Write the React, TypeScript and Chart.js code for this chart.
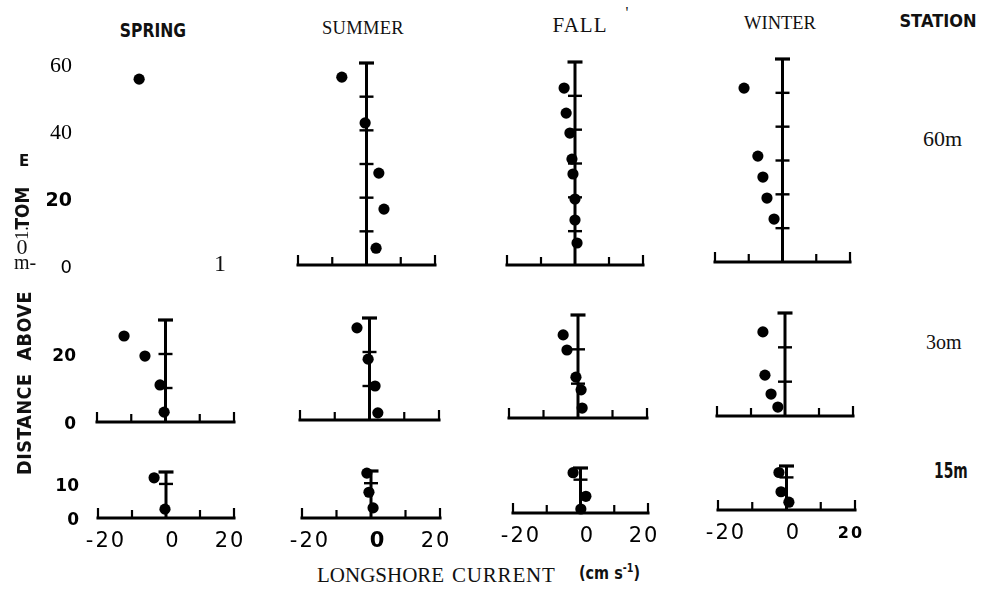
import React, { useEffect, useRef } from 'react';
import { Chart, registerables } from 'chart.js';

Chart.register(...registerables);

// ---------- categories ----------
const seasons = ['SPRING', 'SUMMER', 'FALL', 'WINTER'];
const stations = ['60m', '3om', '15m'];
const stationHeader = 'STATION';
const xAxisTitleA = 'LONGSHORE';
const xAxisTitleB = 'CURRENT';
const yAxisTitle = 'DISTANCE  ABOVE';

// ---------- data: longshore current (cm/s) vs distance above bottom (m) ----------
const spring60X = [-7.9];
const spring60Y = [55.2];
const summer60X = [-7.2, -0.4, 3.6, 5.1, 2.8];
const summer60Y = [55.8, 42.2, 27.3, 16.6, 5.0];
const fall60X = [-3.2, -2.6, -1.5, -0.9, -0.6, 0, 0, 0.6];
const fall60Y = [52.3, 44.9, 39.0, 31.3, 26.9, 19.5, 13.3, 6.5];
const winter60X = [-11.4, -7.3, -5.8, -4.6, -2.5];
const winter60Y = [51.4, 31.3, 25.1, 18.9, 12.7];

const spring30X = [-12.1, -6.0, -1.6, -0.4];
const spring30Y = [25.3, 19.4, 10.9, 2.9];
const summer30X = [-3.6, -0.4, 1.6, 2.4];
const summer30Y = [27.1, 17.9, 10.0, 2.1];
const fall30X = [-4.3, -3.2, -0.6, 0.9, 1.2];
const fall30Y = [24.2, 19.8, 11.9, 8.2, 2.9];
const winter30X = [-6.5, -5.9, -4.1, -2.1];
const winter30Y = [24.5, 11.9, 6.4, 2.6];

const spring15X = [-3.5, -0.3];
const spring15Y = [11.8, 2.6];
const summer15X = [-1.2, -0.6, 0.6];
const summer15Y = [12.9, 7.4, 2.9];
const fall15X = [-2.2, 1.6, 0.1];
const fall15Y = [12.1, 5.0, 1.2];
const winter15X = [-2.2, -1.6, 0.7];
const winter15Y = [11.5, 5.6, 2.4];

// ---------- axes / ticks ----------
const xMin = -20;
const xMax = 20;
const xTickMarks = [-20, -10, 10, 20];
const xLabelValues = [-20, 0, 20];
const xLabelTexts = ['-20', '0', '20'];
const axisTop = [60, 30, 13.5];
const rodTicks60 = [10, 20, 30, 40, 50];
const rodTicks30 = [10, 20];
const rodTicks15 = [10];
const yLabelValues60 = [60, 40, 20, 0];
const yLabelTexts60 = ['60', '40', '20', '0'];
const yLabelValues30 = [20, 0];
const yLabelTexts30 = ['20', '0'];
const yLabelValues15 = [10, 0];
const yLabelTexts15 = ['10', '0'];

const seriesX = [
  [spring60X, summer60X, fall60X, winter60X],
  [spring30X, summer30X, fall30X, winter30X],
  [spring15X, summer15X, fall15X, winter15X],
];
const seriesY = [
  [spring60Y, summer60Y, fall60Y, winter60Y],
  [spring30Y, summer30Y, fall30Y, winter30Y],
  [spring15Y, summer15Y, fall15Y, winter15Y],
];
const rodTicks = [rodTicks60, rodTicks30, rodTicks15];
const yLabelValues = [yLabelValues60, yLabelValues30, yLabelValues15];
const yLabelTexts = [yLabelTexts60, yLabelTexts30, yLabelTexts15];

// ---------- layout (plot areas: left(-20), right(+20), bottom(0), top(max)) ----------
const BOXES = [
  [[98, 234, 265, 63], [298, 435, 265, 63], [507, 643, 265, 62], [715, 850, 262, 59]],
  [[97, 234, 422, 320], [300, 439, 420, 318], [509, 647, 418, 315], [717, 853, 416, 313]],
  [[98, 234, 518, 472], [302, 440, 518, 471], [513, 648, 513, 468], [718, 855, 510, 466]],
];

const SERIF = '"Liberation Serif", "Times New Roman", serif';
const SANS = '"DejaVu Sans", "Liberation Sans", sans-serif';
const DJ = '"DejaVu Sans", sans-serif';

const Y_FONTS = [
  [`22px ${SERIF}`, `22px ${SERIF}`, `bold 19px ${DJ}`, `18px ${DJ}`],
  [`bold 17px ${DJ}`, `bold 17px ${DJ}`],
  [`bold 17px ${DJ}`, `bold 17px ${DJ}`],
];
const Y_LABEL_DX = [-26, -21, -19];
const XF = `21px ${DJ}`;
const X_FONTS = [
  [XF, XF, XF],
  [XF, `bold 21px ${DJ}`, XF],
  [XF, XF, XF],
  [XF, XF, `bold 16px ${DJ}`],
];
const X_LABEL_DX = [7, 6, -5];

const axesPlugin = {
  id: 'panelAxes',
  beforeDatasetsDraw(chart: any, _args: any, opts: any) {
    const { ctx } = chart;
    const x = chart.scales.x;
    const y = chart.scales.y;
    ctx.save();
    ctx.strokeStyle = '#000';
    ctx.fillStyle = '#000';
    const y0 = y.getPixelForValue(0);
    const xl = x.getPixelForValue(xMin);
    const xr = x.getPixelForValue(xMax);
    if (opts.drawAxes) {
      ctx.lineCap = 'butt';
      ctx.lineWidth = 3;
      ctx.beginPath();
      ctx.moveTo(xl - 1.5, y0);
      ctx.lineTo(xr + 1.5, y0);
      ctx.stroke();
      ctx.lineWidth = 2.2;
      for (const v of opts.xTicks) {
        const px = x.getPixelForValue(v);
        const h = Math.abs(v) === 20 ? 10 : 8;
        ctx.beginPath();
        ctx.moveTo(px, y0 + 1);
        ctx.lineTo(px, y0 - h);
        ctx.stroke();
      }
      const x0 = x.getPixelForValue(0);
      const yt = y.getPixelForValue(opts.top);
      ctx.lineWidth = 3;
      ctx.beginPath();
      ctx.moveTo(x0, y0);
      ctx.lineTo(x0, yt);
      ctx.stroke();
      ctx.lineWidth = 2.4;
      for (const v of opts.rod) {
        const py = y.getPixelForValue(v);
        ctx.beginPath();
        ctx.moveTo(x0 - 7, py);
        ctx.lineTo(x0 + 7, py);
        ctx.stroke();
      }
      ctx.lineWidth = 3.2;
      ctx.beginPath();
      ctx.moveTo(x0 - 7.5, yt);
      ctx.lineTo(x0 + 7.5, yt);
      ctx.stroke();
    }
    if (opts.yVals) {
      ctx.textAlign = 'right';
      ctx.textBaseline = 'middle';
      opts.yVals.forEach((v: number, i: number) => {
        ctx.font = opts.yFonts[i];
        ctx.fillText(opts.yTexts[i], xl + opts.yDx, y.getPixelForValue(v) + 3);
      });
    }
    if (opts.xVals) {
      ctx.textAlign = 'center';
      ctx.textBaseline = 'middle';
      try { (ctx as any).letterSpacing = '2px'; } catch (e) {}
      opts.xVals.forEach((v: number, i: number) => {
        ctx.font = opts.xFonts[i];
        ctx.fillText(opts.xTexts[i], x.getPixelForValue(v) + opts.xDx[i] + 1, y0 + 24);
      });
      try { (ctx as any).letterSpacing = '0px'; } catch (e) {}
    }
    ctx.restore();
  },
};

function Panel({ row, col }: { row: number; col: number }) {
  const ref = useRef<HTMLCanvasElement | null>(null);
  const box = BOXES[row][col];
  const padL = col === 0 ? 90 : 16;
  const padR = 16;
  const padT = 16;
  const padB = row === 2 ? 40 : 16;
  const w = box[1] - box[0] + padL + padR;
  const h = box[2] - box[3] + padT + padB;
  useEffect(() => {
    const xs = seriesX[row][col];
    const ys = seriesY[row][col];
    const chart = new Chart(ref.current as HTMLCanvasElement, {
      type: 'scatter',
      data: {
        datasets: [
          {
            label: `${seasons[col]} ${stations[row]}`,
            data: xs.map((v, i) => ({ x: v, y: ys[i] })),
            backgroundColor: '#000',
            borderColor: '#000',
            borderWidth: 0,
            pointRadius: 5.6,
            clip: false as any,
          },
        ],
      },
      options: {
        responsive: false,
        animation: false,
        devicePixelRatio: 1,
        events: [],
        layout: { padding: { left: padL, right: padR, top: padT, bottom: padB } },
        scales: {
          x: { type: 'linear', min: xMin, max: xMax, display: false },
          y: { type: 'linear', min: 0, max: axisTop[row], display: false },
        },
        plugins: {
          legend: { display: false },
          tooltip: { enabled: false },
          panelAxes: {
            drawAxes: !(row === 0 && col === 0),
            xTicks: xTickMarks,
            rod: rodTicks[row],
            top: axisTop[row],
            yVals: col === 0 ? yLabelValues[row] : null,
            yTexts: yLabelTexts[row],
            yFonts: Y_FONTS[row],
            yDx: Y_LABEL_DX[row],
            xVals: row === 2 ? xLabelValues : null,
            xTexts: xLabelTexts,
            xFonts: X_FONTS[col],
            xDx: X_LABEL_DX,
          },
        } as any,
      },
      plugins: [axesPlugin],
    });
    return () => chart.destroy();
  }, []);
  return (
    <canvas
      ref={ref}
      width={w}
      height={h}
      style={{ position: 'absolute', left: box[0] - padL, top: box[3] - padT, width: w, height: h }}
    />
  );
}

function Txt({ x, y, text, font, size, bold, rotate, align, spacing, sx, color }: any) {
  const tx = align === 'left' ? '0' : '-50%';
  const origin = align === 'left' ? 'left center' : 'center center';
  return (
    <div
      style={{
        position: 'absolute',
        left: x,
        top: y,
        transform: `translate(${tx},-50%)${rotate ? ` rotate(${rotate}deg)` : ''}${sx ? ` scaleX(${sx})` : ''}`,
        transformOrigin: origin,
        fontFamily: font,
        fontSize: size,
        fontWeight: bold ? 700 : 400,
        lineHeight: 1,
        whiteSpace: 'pre',
        letterSpacing: spacing || 0,
        color: color || '#111',
      }}
    >
      {text}
    </div>
  );
}

export default function App() {
  const panels = [];
  for (let r = 0; r < 3; r++) for (let c = 0; c < 4; c++) panels.push(<Panel key={`${r}-${c}`} row={r} col={c} />);
  return (
    <div style={{ position: 'absolute', left: 0, top: 0, width: 985, height: 591, background: '#fff', overflow: 'hidden' }}>
      {panels}
      <Txt x={153} y={30} text={seasons[0]} font={SANS} size={19} bold sx={0.82} />
      <Txt x={363} y={28} text={seasons[1]} font={SERIF} size={18.5} spacing={0.3} />
      <Txt x={580} y={25} text={seasons[2]} font={SERIF} size={21} spacing={1} />
      <Txt x={627} y={13} text={"'"} font={SERIF} size={16} />
      <Txt x={780} y={23} text={seasons[3]} font={SERIF} size={18.5} />
      <Txt x={938} y={21} text={stationHeader} font={SANS} size={18} bold sx={0.9} />
      <Txt x={923} y={139} text={stations[0]} font={SERIF} size={22} align="left" />
      <Txt x={926} y={342} text={stations[1]} font={SERIF} size={20} align="left" />
      <Txt x={934} y={471} text={stations[2]} font={SANS} size={21} bold align="left" sx={0.66} />
      <Txt x={317} y={575} text={xAxisTitleA} font={SERIF} size={21} align="left" />
      <Txt x={452} y={575} text={xAxisTitleB} font={SERIF} size={21} align="left" spacing={0.8} />
      <div style={{ position: 'absolute', left: 579, top: 572, transform: 'translate(0,-50%) scaleX(0.8)', transformOrigin: 'left center', fontFamily: SANS, fontSize: 18, fontWeight: 700, lineHeight: 1, whiteSpace: 'pre', color: '#111' }}>
        (cm s<sup style={{ fontSize: 12 }}>-1</sup>)
      </div>
      <Txt x={24} y={383} text={yAxisTitle} font={SANS} size={20} bold rotate={-90} sx={0.88} spacing={0.5} />
      <Txt x={22} y={208} text="TOM" font={SANS} size={20} bold rotate={-90} sx={0.85} />
      <Txt x={24} y={161} text="E" font={SANS} size={15} bold />
      <Txt x={22} y={233} text="1." font={SERIF} size={18} rotate={-90} />
      <Txt x={22} y={247} text="0" font={SERIF} size={22} />
      <Txt x={25} y={262} text="m-" font={SERIF} size={20} />
      <Txt x={220} y={263} text="1" font={SERIF} size={24} />
    </div>
  );
}
